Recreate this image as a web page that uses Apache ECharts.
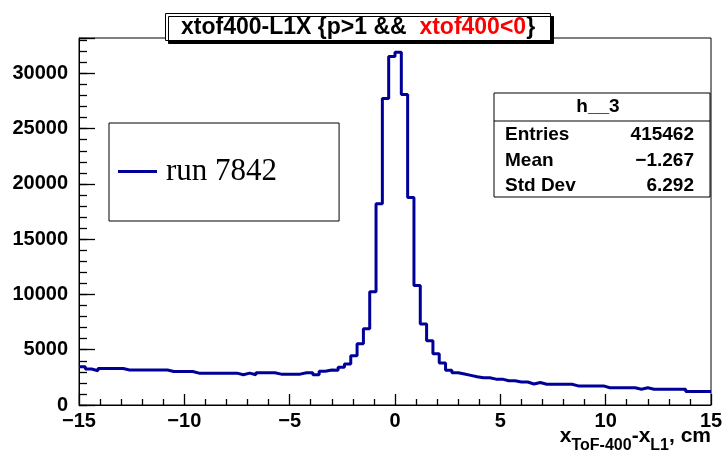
<!DOCTYPE html>
<html><head><meta charset="utf-8">
<script src="https://cdn.jsdelivr.net/npm/echarts@6/dist/echarts.min.js"></script>
<style>html,body{margin:0;padding:0;background:#fff}#c{width:727px;height:461px}</style>
</head><body><div id="c"></div>
<script>
// Histogram definition
const binLow = -15;
const binWidth = 0.3;
const counts = [
  3450, 3250, 3100, 3300, 3300, 3300, 3300, 3170, 3170, 3170,
  3170, 3170, 3170, 3170, 3030, 3030, 3030, 3030, 2880, 2880,
  2880, 2880, 2880, 2880, 2880, 2730, 2880, 2730, 2920, 2920,
  2920, 2790, 2790, 2790, 2790, 2920, 2920, 2730, 3060, 3170,
  3150, 3420, 3720, 4450, 5540, 6890, 10240, 18200, 27730, 31520,
  31900, 28090, 18760, 10820, 7330, 5820, 4640, 3790, 3150, 2920,
  2800, 2680, 2560, 2460, 2460, 2340, 2340, 2200, 2200, 2080,
  2080, 1900, 2030, 1880, 1880, 1880, 1880, 1880, 1730, 1730,
  1730, 1730, 1730, 1560, 1560, 1560, 1560, 1560, 1430, 1560,
  1430, 1430, 1430, 1430, 1430, 1430, 1220, 1220, 1220, 1220
];
const seriesName = 'run 7842';
const statsTitle = 'h__3';
const statsLabels = ['Entries', 'Mean', 'Std Dev'];
const statsValues = ['415462', '\u22121.267', '6.292'];
const xMin = -15, xMax = 15, xStep = 5;
const yMin = 0, yMax = 33200, yStep = 5000, yMinorStep = 1000;

const histData = counts.map((c, i) => [binLow + i * binWidth, c]);
histData.push([binLow + counts.length * binWidth, counts[counts.length - 1]]);

const FONT = 'Liberation Sans';
const lbl = {fontFamily: FONT, fontWeight: 'bold', fontSize: 19, fill: '#000'};
const TICK = {color: '#000', width: 1.3};

const statsGraphics = [
  {type: 'rect', shape: {x: 494, y: 93, width: 216, height: 104}, style: {fill: '#fff', stroke: '#000', lineWidth: 1}, z: 100},
  {type: 'line', shape: {x1: 494, y1: 121, x2: 710, y2: 121}, style: {stroke: '#000', lineWidth: 1}, z: 101},
  {type: 'text', x: 598, y: 107, style: Object.assign({text: statsTitle, align: 'center', verticalAlign: 'middle'}, lbl), z: 102}
];
statsLabels.forEach((t, i) => {
  statsGraphics.push({type: 'text', x: 505, y: 135 + i * 25.5, style: Object.assign({text: t, align: 'left', verticalAlign: 'middle'}, lbl), z: 102});
  statsGraphics.push({type: 'text', x: 694, y: 135 + i * 25.5, style: Object.assign({text: statsValues[i], align: 'right', verticalAlign: 'middle'}, lbl), z: 102});
});
statsGraphics.push({
  type: 'text', right: 16, top: 426, z: 102,
  style: {
    text: '{b|x}{s|ToF-400}{b|-x}{s|L1}{b|, cm}',
    rich: {
      b: {fontFamily: FONT, fontWeight: 'bold', fontSize: 21, fill: '#000', verticalAlign: 'bottom', lineHeight: 22},
      s: {fontFamily: FONT, fontWeight: 'bold', fontSize: 16, fill: '#000', verticalAlign: 'bottom', lineHeight: 16, padding: [0, 0, -7, 0]}
    }
  }
});

const chart = echarts.init(document.getElementById('c'), null, {renderer: 'canvas'});
chart.setOption({
  animation: false,
  backgroundColor: '#fff',
  title: {
    text: 'xtof400-L1X {p>1 &&  {r|xtof400<0}}',
    left: 165, top: 13,
    padding: [3, 16, 2, 16],
    backgroundColor: '#fff',
    borderColor: '#000', borderWidth: 1,
    shadowColor: '#000', shadowOffsetX: 3, shadowOffsetY: 3, shadowBlur: 0,
    textStyle: {
      fontFamily: FONT, fontWeight: 'bold', fontSize: 23, color: '#000',
      rich: {r: {fontFamily: FONT, fontWeight: 'bold', fontSize: 23, color: '#ff0000'}}
    }
  },
  legend: {
    left: 109, top: 123,
    padding: [33, 62, 34, 9],
    backgroundColor: '#fff',
    borderColor: '#000', borderWidth: 1,
    icon: 'rect', itemWidth: 39, itemHeight: 3,
    textStyle: {fontFamily: 'Liberation Serif', fontSize: 31, color: '#000', padding: [0, 0, 0, 4]},
    data: [seriesName]
  },
  grid: {left: 79, right: 16, top: 38, bottom: 56, show: true, borderColor: '#000', borderWidth: 1, backgroundColor: 'transparent'},
  xAxis: {
    type: 'value', min: xMin, max: xMax, interval: xStep,
    axisLine: {show: true, onZero: false, lineStyle: {color: '#000', width: 1}},
    axisTick: {show: true, inside: true, length: 11, lineStyle: TICK},
    minorTick: {show: true, splitNumber: 5, length: 6, lineStyle: TICK},
    axisLabel: {
      fontFamily: FONT, fontWeight: 'bold', fontSize: 20, color: '#000', margin: 6,
      formatter: v => (v < 0 ? '\u2212' + Math.abs(v) : String(v))
    },
    splitLine: {show: false}
  },
  yAxis: [
    {
      type: 'value', min: yMin, max: yMax, interval: yStep,
      axisLine: {show: true, onZero: false, lineStyle: {color: '#000', width: 1}},
      axisTick: {show: true, inside: true, length: 16, lineStyle: TICK},
      axisLabel: {
        fontFamily: FONT, fontWeight: 'bold', fontSize: 20, color: '#000', margin: 11,
        formatter: v => (v % yStep === 0 ? String(v) : '')
      },
      splitLine: {show: false}
    },
    {
      type: 'value', min: yMin, max: yMax, interval: yMinorStep, position: 'left',
      axisLine: {show: false, onZero: false},
      axisTick: {show: true, inside: true, length: 8, lineStyle: TICK},
      axisLabel: {show: false},
      splitLine: {show: false}
    }
  ],
  series: [{
    name: seriesName,
    type: 'line',
    step: 'end',
    data: histData,
    showSymbol: false,
    symbol: 'none',
    color: '#000099',
    lineStyle: {color: '#000099', width: 3},
    clip: true,
    z: 5
  }],
  graphic: statsGraphics
});
</script>
</body></html>
